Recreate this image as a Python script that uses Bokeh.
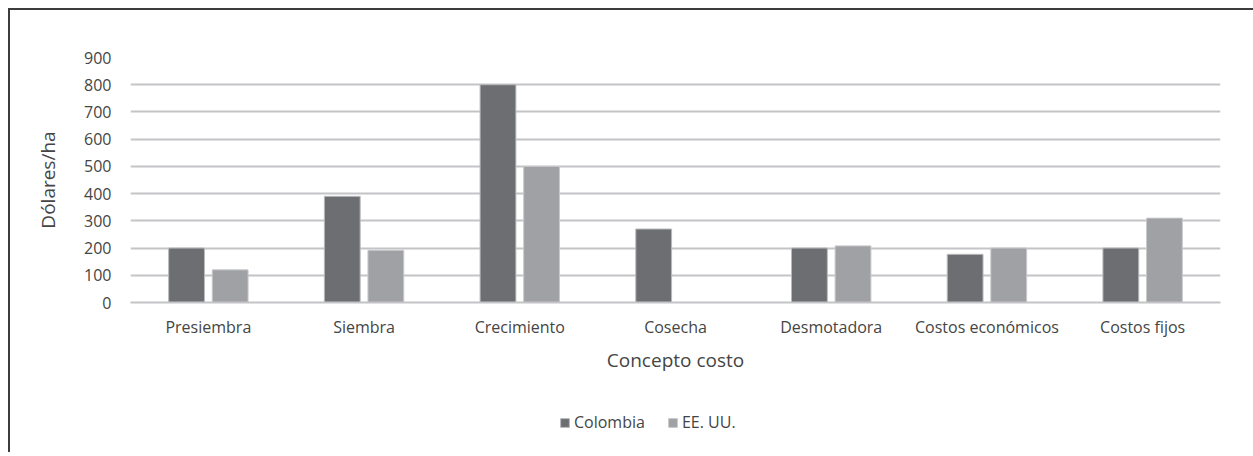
from bokeh.plotting import figure
from bokeh.layouts import column
from bokeh.models import ColumnDataSource, FactorRange, Legend, LegendItem
from bokeh.transform import dodge
from bokeh.embed import file_html
from bokeh.resources import INLINE

categories = ["Presiembra", "Siembra", "Crecimiento", "Cosecha", "Desmotadora", "Costos económicos", "Costos fijos"]
colombia = [200, 390, 800, 270, 200, 177, 200]
eeuu = [120, 192, 500, 0, 208, 200, 310]
y_ticks = [0, 100, 200, 300, 400, 500, 600, 700, 800, 900]
series_names = ["Colombia", "EE. UU."]

FONT = "Open Sans"
TXT = "#454545"
GRID = "#c4c4c7"
C1, C2 = "#6d6e71", "#a0a1a4"
L1, L2 = "#b9babc", "#c8c9cb"

src = ColumnDataSource(dict(cat=categories, col=colombia, us=eeuu))

p = figure(x_range=FactorRange(factors=categories), y_range=(0, 900),
           width=1243, height=392,
           min_border_left=120, min_border_right=33, min_border_top=47, min_border_bottom=100,
           output_backend="svg", toolbar_location=None)
p.outline_line_color = None
p.background_fill_color = "white"

p.vbar(x=dodge("cat", -0.14, range=p.x_range), top="col", width=0.23, source=src,
       fill_color=C1, line_color=L1, line_width=1)
p.vbar(x=dodge("cat", 0.14, range=p.x_range), top="us", width=0.23, source=src,
       fill_color=C2, line_color=L2, line_width=1)

p.xgrid.grid_line_color = None
p.ygrid.grid_line_color = GRID
p.ygrid.grid_line_width = 2
p.yaxis.ticker = y_ticks

p.yaxis.axis_line_color = None
p.yaxis.major_tick_line_color = None
p.yaxis.minor_tick_line_color = None
p.yaxis.major_label_standoff = 13
p.yaxis.axis_label = "Dólares/ha"
p.yaxis.axis_label_standoff = 20
p.yaxis.axis_label_text_font_style = "normal"
p.yaxis.axis_label_text_font_size = "19px"

p.xaxis.axis_line_color = GRID
p.xaxis.axis_line_width = 2
p.xaxis.major_tick_line_color = None
p.xaxis.minor_tick_line_color = None
p.xaxis.major_label_standoff = 7
p.xaxis.axis_label = "Concepto costo"
p.xaxis.axis_label_standoff = 6
p.xaxis.axis_label_text_font_style = "normal"
p.xaxis.axis_label_text_font_size = "19px"

for ax in (p.xaxis, p.yaxis):
    ax.major_label_text_font = FONT
    ax.major_label_text_font_size = "16px"
    ax.major_label_text_color = TXT
    ax.axis_label_text_font = FONT
    ax.axis_label_text_color = TXT

# legend strip below the chart
p2 = figure(width=1243, height=50, x_range=(0, 1), y_range=(0, 1),
            min_border=0, x_axis_location=None, y_axis_location=None,
            output_backend="svg", toolbar_location=None)
p2.outline_line_color = None
p2.grid.grid_line_color = None
offscreen = ColumnDataSource(dict(x=[-1000], top=[-1000], bottom=[-1001]))
g1 = p2.vbar(x="x", top="top", bottom="bottom", width=0.1, source=offscreen,
             fill_color=C1, line_color=L1)
g2 = p2.vbar(x="x", top="top", bottom="bottom", width=0.1, source=offscreen,
             fill_color=C2, line_color=L2)
legend = Legend(items=[LegendItem(label=series_names[0], renderers=[g1]),
                       LegendItem(label=series_names[1], renderers=[g2])],
                orientation="horizontal", location=(429, 19),
                label_text_font=FONT, label_text_font_size="16px", label_text_color=TXT,
                glyph_width=11, glyph_height=11, label_standoff=4, spacing=22,
                padding=2, margin=0, border_line_color=None, background_fill_alpha=0)
p2.add_layout(legend, "center")

layout = column(p, p2, spacing=0)
layout.styles = {"border-top": "2px solid #3c3c3c", "border-left": "2px solid #3c3c3c",
                 "margin-left": "8px", "margin-top": "8px"}

open("out.html", "w").write(file_html(layout, INLINE))
